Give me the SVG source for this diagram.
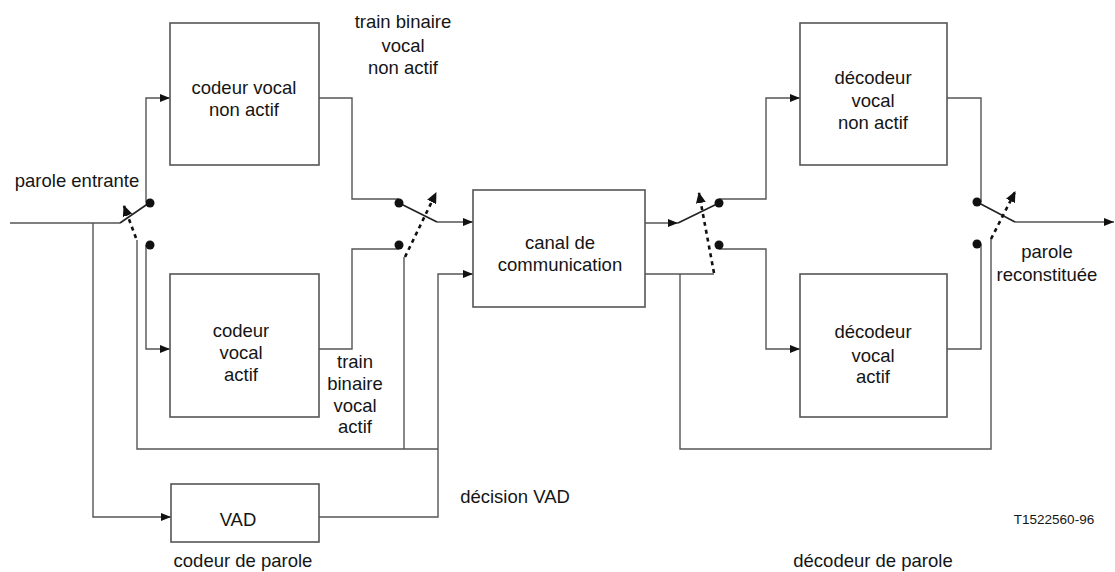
<svg xmlns="http://www.w3.org/2000/svg" width="1115" height="572" viewBox="0 0 1115 572">
  <style>
    .box { fill: #fff; stroke: #555; stroke-width: 1.6; }
    .wire { fill: none; stroke: #555; stroke-width: 1.4; }
    .blade { fill: none; stroke: #222; stroke-width: 1.6; }
    .ctrl { fill: none; stroke: #111; stroke-width: 2.6; stroke-dasharray: 4 4; }
    .dot { fill: #111; }
    text { font-family: "Liberation Sans", Arial, sans-serif; font-size: 18.5px; fill: #151515; text-anchor: middle; }
    .ref { font-size: 13.5px; }
  </style>
  <defs>
    <marker id="arrow" viewBox="0 0 10 8" refX="10" refY="4" markerWidth="10" markerHeight="8" markerUnits="userSpaceOnUse" orient="auto">
      <path d="M0,0 L10,4 L0,8 z" fill="#111"/>
    </marker>
    <marker id="ctrlArrow" viewBox="0 0 11 10" refX="10" refY="5" markerWidth="11" markerHeight="10" markerUnits="userSpaceOnUse" orient="auto">
      <path d="M0,0 L11,5 L0,10 z" fill="#111"/>
    </marker>
  </defs>

  <!-- signal wiring -->
  <g id="connectors">
    <!-- speech input and VAD tap -->
    <path class="wire" d="M10,223 H120"/>
    <path class="wire" d="M93,223 V517 H171" marker-end="url(#arrow)"/>
    <!-- switch 1 outputs to the two encoders -->
    <path class="wire" d="M146,202 V98 H170" marker-end="url(#arrow)"/>
    <path class="wire" d="M146,245 V349 H170" marker-end="url(#arrow)"/>
    <!-- encoder outputs to switch 2 -->
    <path class="wire" d="M319,98 H352 V199 H399"/>
    <path class="wire" d="M319,349 H352 V249 H399"/>
    <path class="wire" d="M437,222 H473" marker-end="url(#arrow)"/>
    <!-- VAD decision to channel and switch controls -->
    <path class="wire" d="M319,517 H438 V274 H473" marker-end="url(#arrow)"/>
    <path class="wire" d="M137,240 V449 H438"/>
    <path class="wire" d="M404,257 V449"/>
    <!-- channel outputs -->
    <path class="wire" d="M645,223 H678" marker-end="url(#arrow)"/>
    <path class="wire" d="M645,274 H714"/>
    <path class="wire" d="M680,274 V449 H991 V239"/>
    <!-- switch 3 outputs to the two decoders -->
    <path class="wire" d="M719,199 H766 V98 H800" marker-end="url(#arrow)"/>
    <path class="wire" d="M719,249 H766 V349 H800" marker-end="url(#arrow)"/>
    <!-- decoder outputs to switch 4 -->
    <path class="wire" d="M947,98 H981 V202"/>
    <path class="wire" d="M947,349 H981 V244"/>
    <path class="wire" d="M1015,222 H1114" marker-end="url(#arrow)"/>
  </g>

  <!-- switch 1 -->
  <g id="switch-1">
    <path class="blade" d="M120,223 L149,203"/>
    <circle class="dot" cx="150" cy="203" r="4.5"/>
    <circle class="dot" cx="150" cy="245" r="4.5"/>
    <path class="ctrl" d="M136,238 L124,206" marker-end="url(#ctrlArrow)"/>
  </g>

  <!-- switch 2 -->
  <g id="switch-2">
    <path class="blade" d="M399,203 L437,222"/>
    <circle class="dot" cx="399" cy="203" r="4.5"/>
    <circle class="dot" cx="399" cy="245" r="4.5"/>
    <path class="ctrl" d="M405,257 L436,193" marker-end="url(#ctrlArrow)"/>
  </g>

  <!-- switch 3 -->
  <g id="switch-3">
    <path class="blade" d="M678,223 L719,203"/>
    <circle class="dot" cx="719" cy="203" r="4.5"/>
    <circle class="dot" cx="719" cy="245" r="4.5"/>
    <path class="ctrl" d="M714,273 L699,193" marker-end="url(#ctrlArrow)"/>
  </g>

  <!-- switch 4 -->
  <g id="switch-4">
    <path class="blade" d="M977,202 L1015,222"/>
    <circle class="dot" cx="977" cy="202" r="4.5"/>
    <circle class="dot" cx="977" cy="244" r="4.5"/>
    <path class="ctrl" d="M991,239 L1015,192" marker-end="url(#ctrlArrow)"/>
  </g>

  <g id="codeur-non-actif">
    <rect class="box" x="170" y="23" width="149" height="142"/>
    <text x="244" y="94">codeur vocal</text>
    <text x="244" y="116">non actif</text>
  </g>

  <g id="codeur-actif">
    <rect class="box" x="170" y="274" width="149" height="143"/>
    <text x="241" y="337">codeur</text>
    <text x="241" y="359">vocal</text>
    <text x="241" y="381">actif</text>
  </g>

  <g id="vad">
    <rect class="box" x="171" y="484" width="148" height="58"/>
    <text x="238" y="526">VAD</text>
  </g>

  <g id="canal">
    <rect class="box" x="473" y="190" width="172" height="117"/>
    <text x="560" y="249">canal de</text>
    <text x="560" y="271">communication</text>
  </g>

  <g id="decodeur-non-actif">
    <rect class="box" x="800" y="23" width="147" height="142"/>
    <text x="873" y="84">décodeur</text>
    <text x="873" y="107">vocal</text>
    <text x="873" y="129">non actif</text>
  </g>

  <g id="decodeur-actif">
    <rect class="box" x="800" y="274" width="147" height="143"/>
    <text x="873" y="338">décodeur</text>
    <text x="873" y="362">vocal</text>
    <text x="873" y="383">actif</text>
  </g>

  <!-- free labels -->
  <g id="labels">
    <text x="77" y="187">parole entrante</text>
    <text x="403" y="28">train binaire</text>
    <text x="403" y="52">vocal</text>
    <text x="403" y="74">non actif</text>
    <text x="355" y="368">train</text>
    <text x="355" y="390">binaire</text>
    <text x="355" y="412">vocal</text>
    <text x="355" y="433">actif</text>
    <text x="515" y="503">décision VAD</text>
    <text x="1047" y="258">parole</text>
    <text x="1047" y="281">reconstituée</text>
    <text class="ref" x="1054" y="524">T1522560-96</text>
    <text x="243" y="567">codeur de parole</text>
    <text x="873" y="567">décodeur de parole</text>
  </g>
</svg>
